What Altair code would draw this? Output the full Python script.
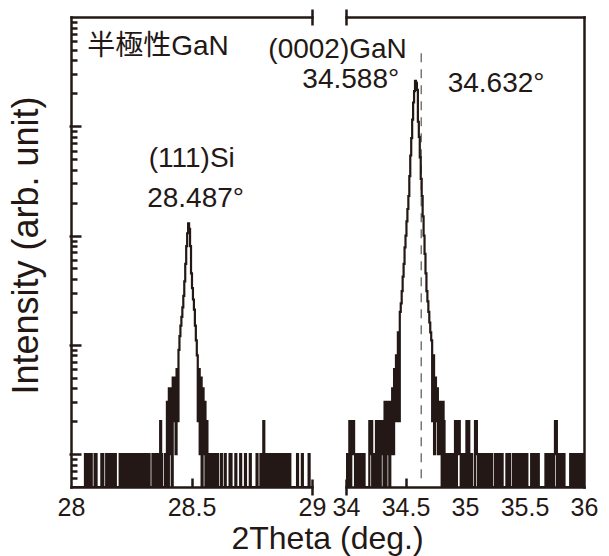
import altair as alt
import pandas as pd

# ---------------- data ----------------
left_start = 28.0
left_step = 0.004
left_counts = [
    0, 0, 0, 0, 0, 0, 0, 0, 0, 0,
    0, 0, 0, 0, 0, 1, 0, 1, 0, 1,
    0, 1, 0, 0, 0, 1, 1, 0, 0, 0,
    0, 0, 1, 1, 0, 0, 0, 1, 1, 0,
    0, 1, 1, 0, 0, 1, 1, 0, 0, 0,
    0, 1, 1, 0, 0, 1, 0, 1, 0, 1,
    0, 1, 0, 1, 1, 0, 1, 1, 0, 0,
    1, 0, 1, 0, 1, 0, 0, 1, 0, 1,
    0, 1, 0, 0, 0, 1, 0, 1, 0, 1,
    1, 0, 0, 2, 1, 0, 0, 0, 1, 0,
    3, 0, 4, 1, 4, 0, 5, 2, 5, 1,
    6, 2, 9, 12, 15, 18, 22, 28, 38, 55,
    80, 105, 129, 115, 80, 45, 33, 26, 21, 15,
    11, 8, 2, 6, 1, 5, 0, 4, 1, 3,
    0, 2, 1, 0, 1, 0, 1, 1, 0, 0,
    1, 0, 1, 0, 0, 0, 1, 0, 0, 0,
    1, 0, 0, 0, 0, 1, 1, 0, 0, 0,
    0, 1, 0, 0, 0, 0, 1, 0, 0, 0,
    0, 1, 0, 0, 0, 0, 1, 0, 0, 0,
    0, 0, 0, 1, 0, 0, 0, 1, 0, 0,
    2, 0, 0, 1, 0, 1, 1, 0, 0, 1,
    0, 1, 0, 0, 1, 0, 1, 0, 1, 0,
    1, 0, 1, 1, 0, 1, 0, 1, 0, 0,
    0, 0, 0, 0, 0, 1, 0, 0, 0, 0,
    1, 0, 0, 0, 0, 0, 0, 1, 0, 0,
    0,
]

right_start = 34.0
right_step = 0.008
right_counts = [
    1, 0, 1, 0, 2, 0, 2, 1, 2, 1,
    0, 1, 0, 1, 1, 0, 1, 0, 1, 1,
    0, 0, 0, 0, 0, 2, 1, 2, 0, 1,
    0, 1, 2, 0, 1, 2, 0, 2, 1, 2,
    0, 3, 0, 3, 1, 3, 0, 3, 1, 4,
    1, 6, 2, 8, 2, 13, 2, 20, 24, 31,
    42, 55, 78, 100, 135, 175, 230, 350, 540, 780,
    1150, 1650, 2100, 2600, 2500, 2150, 1100, 800, 520, 330,
    230, 150, 100, 68, 45, 31, 25, 20, 16, 13,
    11, 2, 8, 1, 5, 2, 4, 1, 3, 1,
    3, 0, 3, 2, 0, 1, 0, 1, 1, 0,
    1, 0, 1, 1, 0, 2, 0, 2, 1, 2,
    1, 0, 1, 0, 1, 0, 1, 2, 0, 2,
    1, 0, 1, 0, 0, 0, 2, 2, 1, 0,
    1, 0, 1, 0, 1, 1, 0, 1, 0, 1,
    0, 1, 0, 1, 0, 0, 0, 1, 0, 1,
    0, 1, 0, 1, 1, 0, 0, 0, 0, 1,
    0, 1, 1, 0, 0, 0, 1, 0, 1, 0,
    1, 1, 0, 1, 0, 1, 0, 1, 1, 0,
    1, 0, 0, 0, 0, 1, 0, 1, 0, 1,
    0, 1, 1, 0, 0, 0, 0, 0, 0, 0,
    1, 0, 1, 0, 1, 1, 0, 1, 0, 1,
    2, 2, 0, 1, 0, 1, 0, 1, 0, 1,
    0, 0, 0, 0, 0, 0, 1, 0, 1, 0,
    0, 1, 0, 1, 0, 1, 0, 1, 0, 1,
    0,
]

left_domain = [28, 29]
right_domain = [34, 36]
left_x_labels = [28, 28.5, 29]
left_x_inner_ticks = [28.5]
left_break = [29]
right_x_labels = [34, 34.5, 35, 35.5, 36]
right_x_inner_ticks = [34.5, 35, 35.5]
right_break = [34]
y_domain = [0.5, 10000]
y_major_ticks = [1, 10, 100, 1000]
y_minor_ticks = [0.6, 0.7, 0.8, 0.9,
                 2, 3, 4, 5, 6, 7, 8, 9,
                 20, 30, 40, 50, 60, 70, 80, 90,
                 200, 300, 400, 500, 600, 700, 800, 900,
                 2000, 3000, 4000, 5000, 6000, 7000, 8000, 9000]

ann_left_text = ["半極性GaN", "(111)Si", "28.487°"]
ann_left_x = [28.361, 28.501, 28.517]
ann_left_y = [5300, 498, 218]
ann_right_text = ["(0002)GaN", "34.588°", "34.632°"]
ann_right_x = [33.929, 34.040, 35.261]
ann_right_y = [4980, 2643, 2455]

ref_angle = [34.632, 34.632]
ref_y = [0.6, 5000]

# ---------------- style ----------------
INK = "#231815"
FONT = "Liberation Sans"
CJK = "Liberation Sans, Noto Sans CJK JP"

df_left = pd.DataFrame({
    "angle": [round(left_start + i * left_step, 4) for i in range(len(left_counts))],
    "count": left_counts,
})
df_right = pd.DataFrame({
    "angle": [round(right_start + i * right_step, 4) for i in range(len(right_counts))],
    "count": right_counts,
})
df_ann_left = pd.DataFrame({"t": ann_left_text, "angle": ann_left_x, "v": ann_left_y})
df_ann_right = pd.DataFrame({"t": ann_right_text, "angle": ann_right_x, "v": ann_right_y})
df_ref = pd.DataFrame({"angle": ref_angle[:1], "lo": ref_y[:1], "hi": ref_y[1:]})

yscale = alt.Scale(type="log", domain=y_domain, nice=False)


def ax(**kw):
    base = dict(grid=False, labels=False, ticks=False, domain=False, title=None)
    base.update(kw)
    return alt.Axis(**base)


def xs(domain):
    return alt.Scale(domain=domain, nice=False, zero=False)


def dom_axis(orient):
    return ax(orient=orient, domain=True, domainColor=INK, domainWidth=2.5, domainCap="square")


def tick_axis(orient, values, offset, size):
    return ax(orient=orient, values=values, ticks=True, tickColor=INK, tickWidth=2.5,
              tickSize=size, offset=offset)


def panel(df, domain, labels, inner, brk, df_ann, side):
    base = alt.Chart(df).transform_calculate(v="max(datum.count, 0.5)")
    X = lambda a: alt.X("angle:Q", scale=xs(domain), axis=a)
    Y = lambda a: alt.Y("v:Q", scale=yscale, axis=a)

    label_kw = dict(orient="bottom", domain=True, domainColor=INK, domainWidth=2.5,
                    domainCap="square", labels=True, values=labels, format="~g",
                    labelFont=FONT, labelFontSize=25, labelColor=INK, labelPadding=8,
                    labelFlush=False, labelOverlap=False)
    if side == "left":
        main_x = ax(title="2Theta (deg.)", titleX=256, titleY=61,
                    titleBaseline="alphabetic", titleFont=FONT, titleFontSize=32,
                    titleFontWeight="normal", titleColor=INK, **label_kw)
        main_y = ax(orient="left", domain=True, domainColor=INK, domainWidth=2.5,
                    domainCap="square", title="Intensity (arb. unit)", titleX=-34,
                    titleY=228, titleBaseline="alphabetic", titleFont=FONT,
                    titleFontSize=36, titleFontWeight="normal", titleColor=INK)
        y2 = tick_axis("left", y_major_ticks, -10, 12)
        y3 = tick_axis("left", y_minor_ticks, -6, 6)
    else:
        main_x = ax(**label_kw)
        main_y = dom_axis("right")
        y2 = None
        y3 = None

    line = base.mark_line(color=INK, strokeWidth=2.2, interpolate="step",
                          clip=True).encode(x=X(main_x), y=Y(main_y))
    l2 = base.mark_line(opacity=0).encode(x=X(tick_axis("bottom", inner, -9, 9)), y=Y(y2))
    l3 = base.mark_line(opacity=0).encode(x=X(tick_axis("bottom", brk, -8, 16)), y=Y(y3))
    l4 = base.mark_line(opacity=0).encode(x=X(dom_axis("top")), y=Y(None))
    l5 = base.mark_line(opacity=0).encode(x=X(tick_axis("top", brk, -8, 16)), y=Y(None))

    text = alt.Chart(df_ann).mark_text(font=CJK, fontSize=28, color=INK,
                                       baseline="middle", align="center").encode(
        x=alt.X("angle:Q", scale=xs(domain), axis=None),
        y=alt.Y("v:Q", scale=yscale, axis=None),
        text="t:N")
    layers = [line, l2, l3, l4, l5, text]
    if side == "right":
        rule = alt.Chart(df_ref).mark_rule(color="#595757", strokeWidth=1.2,
                                           strokeDash=[9, 7]).encode(
            x=alt.X("angle:Q", scale=xs(domain), axis=None),
            y=alt.Y("lo:Q", scale=yscale, axis=None),
            y2="hi:Q")
        layers.insert(0, rule)
    return alt.layer(*layers).resolve_axis(x="independent", y="independent")


left = panel(df_left, left_domain, left_x_labels, left_x_inner_ticks, left_break,
             df_ann_left, "left").properties(width=241, height=470)
right = panel(df_right, right_domain, right_x_labels, right_x_inner_ticks, right_break,
              df_ann_right, "right").properties(width=238, height=470)

chart = alt.hconcat(left, right, spacing=34, bounds="flush").properties(
    padding={"left": 8, "top": 7, "right": 11, "bottom": 5},
    background="white",
).configure_view(stroke=None)

chart.save("out.html", embed_options={"renderer": "svg", "actions": False})
